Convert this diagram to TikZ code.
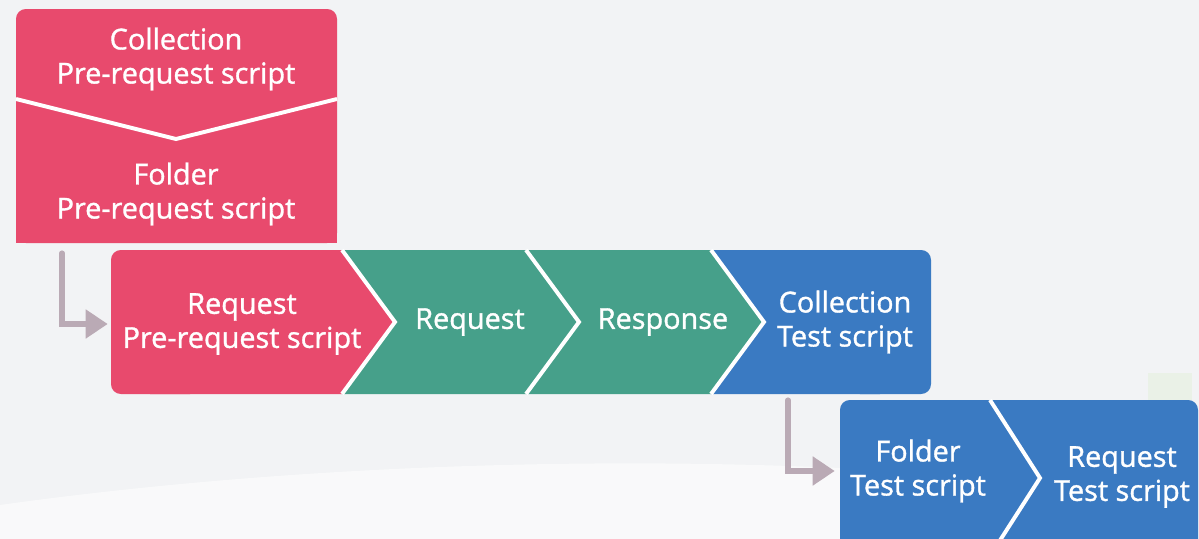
\documentclass[tikz,border=0pt]{standalone}
\usepackage{fontspec}
\setmainfont{Open Sans}[FakeBold=1.2,AutoFakeBold=1.2]
\usetikzlibrary{arrows.meta,positioning}
\definecolor{mypink}{RGB}{232,74,109}
\definecolor{myteal}{RGB}{70,160,138}
\definecolor{myblue}{RGB}{58,122,194}
\definecolor{mymauve}{RGB}{186,170,181}
\definecolor{mybg}{RGB}{242,243,245}
\definecolor{mygreen}{RGB}{234,241,231}

\begin{document}
\begin{tikzpicture}[x=0.025cm,y=-0.025cm,
  txt/.style={align=center,text=white,inner sep=0pt,font=\fontsize{20.5}{24.2}\selectfont\bfseries},
  sep/.style={draw=white,line width=2.8pt},
  flow/.style={draw=mymauve,line width=3.6pt,line cap=round,-{Triangle[width=0.7cm,length=0.55cm]}}]

  \useasboundingbox (0,0) rectangle (1199,539);
  \clip (0,0) rectangle (1199,539);
  \fill[mybg] (0,0) rectangle (1199,539);
  % light swoosh at the bottom
  \fill[white,opacity=0.55] (0,539) -- (0,505) .. controls (250,470) and (550,455) .. (840,468) -- (840,539) -- cycle;
  \fill[mygreen] (1148,373) rectangle (1192,400);

  % pre-request scripts on top
  \fill[mypink,rounded corners=7pt] (16,9) rectangle (337,243);
  \fill[mypink] (16,100) rectangle (337,243);
  \draw[sep] (16,99) -- (176,139) -- (337,99);
  \node[txt] (colpre) at (176,59) {Collection\\Pre-request script};
  \node[txt] (folpre) at (176,194) {Folder\\Pre-request script};

  % main row
  \fill[mypink,rounded corners=7pt] (111,250) rectangle (200,394);
  \fill[mypink] (150,250) -- (342,250) -- (395,322) -- (342,394) -- (150,394) -- cycle;
  \fill[myteal] (342,250) -- (526,250) -- (579,322) -- (526,394) -- (342,394) -- (395,322) -- cycle;
  \fill[myteal] (526,250) -- (711,250) -- (764,322) -- (711,394) -- (526,394) -- (579,322) -- cycle;
  \fill[myblue] (711,250) -- (880,250) -- (880,394) -- (711,394) -- (764,322) -- cycle;
  \fill[myblue,rounded corners=7pt] (850,250) rectangle (931,394);
  \foreach \s in {342,526,711}
    \draw[sep] (\s,250) -- (\s+53,322) -- (\s,394);

  \node[txt,minimum width=6.55cm] (reqpre) at (242,324) {Request\\Pre-request script};
  \node[txt] (req) at (470,322) {Request};
  \node[txt] (resp) at (663,322) {Response};
  \node[txt] (coltest) at (845,322) {Collection\\Test script};

  % test scripts below
  \fill[myblue,rounded corners=7pt] (840,400) rectangle (950,600);
  \fill[myblue] (900,400) -- (990,400) -- (1040,478) -- (990,556) -- (900,556) -- cycle;
  \fill[myblue] (990,400) -- (1150,400) -- (1150,600) -- (990,600) -- (990,556) -- (1040,478) -- cycle;
  \fill[myblue,rounded corners=7pt] (1100,400) rectangle (1198,600);
  \draw[sep] (990,400) -- (1040,478) -- (990,556);

  \node[txt,minimum width=3.9cm] (foltest) at (918,471) {Folder\\Test script};
  \node[txt] (reqtest) at (1122,477) {Request\\Test script};

  \coordinate (from1) at (62,253);
  \coordinate (from2) at (788,400);
  \draw[flow,shorten >=0.075cm] (from1) |- (reqpre.west);
  \draw[flow,shorten >=0.125cm] (from2) |- (foltest.west);

\end{tikzpicture}
\end{document}
